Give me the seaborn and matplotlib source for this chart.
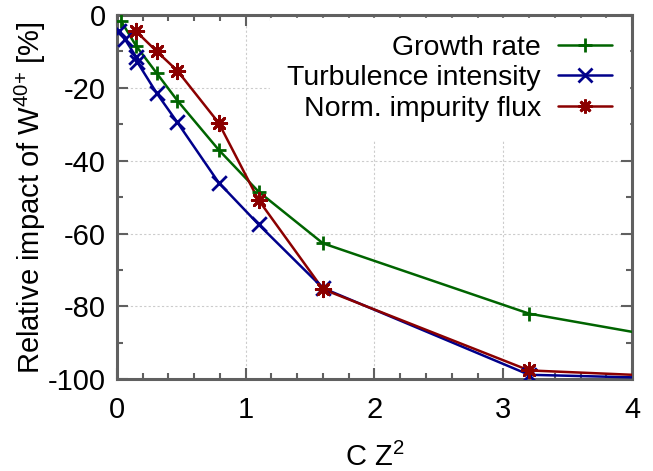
import matplotlib
matplotlib.use("Agg")
import matplotlib.pyplot as plt
import pandas as pd
import seaborn as sns
from matplotlib.lines import Line2D
from matplotlib.ticker import MultipleLocator

# values
growth_x = [0.03, 0.15, 0.31, 0.47, 0.79, 1.1, 1.6, 3.2, 4.0]
growth_y = [-1.5, -8.5, -16.0, -23.5, -37.0, -48.5, -62.7, -82.0, -87.0]

turb_x = [0.015, 0.06, 0.15, 0.16, 0.31, 0.47, 0.79, 1.1, 1.6, 3.2, 4.0]
turb_y = [-4.5, -6.5, -11.5, -13.0, -21.5, -29.5, -46.0, -57.5, -75.0, -98.8, -99.5]

flux_x = [0.15, 0.31, 0.47, 0.79, 1.1, 1.6, 3.2, 4.0]
flux_y = [-4.5, -10.0, -15.3, -29.6, -50.8, -75.3, -97.6, -98.8]

series = [
    ("Growth rate", growth_x, growth_y, "#006400", "+"),
    ("Turbulence intensity", turb_x, turb_y, "#00008b", "x"),
    ("Norm. impurity flux", flux_x, flux_y, "#8b0000", (8, 2, 0)),
]

sns.set_theme(style="ticks")
plt.rcParams["font.family"] = ["Liberation Sans", "DejaVu Sans"]
plt.rcParams["mathtext.default"] = "regular"
plt.rcParams["axes.unicode_minus"] = False
plt.rcParams["text.color"] = "black"

fig = plt.figure(figsize=(6.53, 4.71), dpi=100)
ax = fig.add_axes([0.179, 0.195, 0.789, 0.773])

handles = []
for label, xs, ys, color, marker in series:
    df = pd.DataFrame({"x": xs, "y": ys})
    sns.lineplot(data=df, x="x", y="y", ax=ax, color=color, linewidth=1.8,
                 sort=False, estimator=None, zorder=3)
    # last point sits on the border and carries no marker
    sns.scatterplot(data=df.iloc[:-1], x="x", y="y", ax=ax, color=color,
                    marker=marker, s=110, linewidth=2, zorder=4)
    handles.append(Line2D([], [], color=color, marker=marker, markersize=10,
                          markeredgewidth=2, linewidth=1.8, label=label))

ax.set_xlim(0, 4)
ax.set_ylim(-100, 0)
ax.xaxis.set_major_locator(MultipleLocator(1))
ax.xaxis.set_minor_locator(MultipleLocator(0.2))
ax.yaxis.set_major_locator(MultipleLocator(20))
ax.yaxis.set_minor_locator(MultipleLocator(10))
ax.grid(True, which="major", color="#cccccc", linestyle=(0, (2, 2)), linewidth=0.8)
ax.set_axisbelow(True)

ax.tick_params(which="both", direction="in", top=True, right=True,
               colors="#606060", labelcolor="black", labelsize=21, width=1.5)
ax.tick_params(axis="x", which="major", length=8, pad=12)
ax.tick_params(axis="y", which="major", length=8, pad=8)
ax.tick_params(which="minor", length=4)
for s in ax.spines.values():
    s.set_color("#606060")
    s.set_linewidth(2.2)

ax.set_xlabel("C Z$^2$", fontsize=21, labelpad=14, color="black")
ax.set_ylabel("Relative impact of W$^{40{+}}$ [%]", fontsize=21, labelpad=0,
              color="black")

leg = ax.legend(handles=handles, loc="upper right", markerfirst=False, fontsize=20.5,
                frameon=True, fancybox=False, handlelength=1.9,
                borderaxespad=0.1, borderpad=0.6, labelspacing=0.15,
                handletextpad=0.6)
leg.get_frame().set_facecolor("white")
leg.get_frame().set_edgecolor("white")
leg.get_frame().set_alpha(1)

fig.savefig("out.png", dpi=100)
